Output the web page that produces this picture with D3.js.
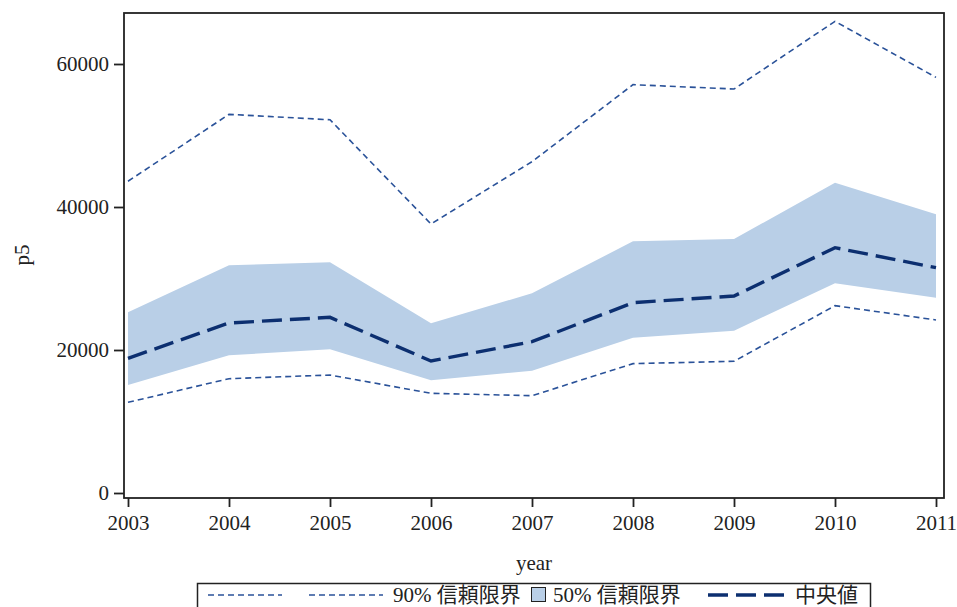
<!DOCTYPE html>
<html>
<head>
<meta charset="utf-8">
<script src="https://cdn.jsdelivr.net/npm/d3@7"></script>
<style>
  html, body { margin: 0; padding: 0; background: #fff; }
  svg { display: block; }
  text { font-family: "Liberation Serif", "Noto Sans CJK JP", serif; fill: #222; }
</style>
</head>
<body>
<svg id="chart" width="957" height="607"></svg>
<script>
// Yearly p5 estimates: median with 50% and 90% confidence limits
const years   = [2003, 2004, 2005, 2006, 2007, 2008, 2009, 2010, 2011];
const median  = [18840, 23780, 24570, 18460, 21160, 26620, 27550, 34310, 31510];
const lo50    = [15100, 19260, 20100, 15760, 17110, 21720, 22700, 29330, 27320];
const hi50    = [25270, 31840, 32260, 23730, 27930, 35200, 35520, 43400, 38980];
const lo90    = [12680, 15990, 16500, 13940, 13610, 18090, 18420, 26200, 24200];
const hi90    = [43600, 52960, 52200, 37620, 46340, 57110, 56500, 65970, 58130];
const yTicks  = [0, 20000, 40000, 60000];
const legendLabels = ["90% 信頼限界", "50% 信頼限界", "中央値"];

const colBand = "#b9cfe7";
const colMed  = "#0c2f70";
const colCI   = "#2a5299";

const svg = d3.select("#chart");

// plot frame
const frame = { left: 124, right: 944, top: 13, bottom: 498 };

const x = d3.scaleLinear().domain([2003, 2011]).range([128, 936]);
const y = d3.scaleLinear().domain([0, 60000]).range([493, 64]);

const rows = years.map((yr, i) => ({
  year: yr, med: median[i], lo50: lo50[i], hi50: hi50[i], lo90: lo90[i], hi90: hi90[i]
}));

// 50% band
svg.append("path")
  .datum(rows)
  .attr("fill", colBand)
  .attr("d", d3.area().x(d => x(d.year)).y0(d => y(d.lo50)).y1(d => y(d.hi50)));

// 90% limits
["hi90", "lo90"].forEach(k => {
  svg.append("path")
    .datum(rows)
    .attr("fill", "none")
    .attr("stroke", colCI)
    .attr("stroke-width", 1.6)
    .attr("stroke-dasharray", "6,4")
    .attr("d", d3.line().x(d => x(d.year)).y(d => y(d[k])));
});

// median
svg.append("path")
  .datum(rows)
  .attr("fill", "none")
  .attr("stroke", colMed)
  .attr("stroke-width", 3.4)
  .attr("stroke-dasharray", "20,8")
  .attr("d", d3.line().x(d => x(d.year)).y(d => y(d.med)));

// frame
svg.append("rect")
  .attr("x", frame.left).attr("y", frame.top)
  .attr("width", frame.right - frame.left).attr("height", frame.bottom - frame.top)
  .attr("fill", "none").attr("stroke", "#222").attr("stroke-width", 1.8);

// y axis
const yAxis = d3.axisLeft(y).tickValues(yTicks).tickSize(10).tickPadding(5).tickFormat(d3.format("d"));
const gy = svg.append("g").attr("transform", `translate(${frame.left},0)`).call(yAxis);
gy.select(".domain").remove();
gy.selectAll(".tick line").attr("stroke", "#222").attr("stroke-width", 1.8);
gy.selectAll(".tick text").attr("font-size", 21).attr("font-family", "Liberation Serif").attr("fill", "#222");

// x axis
const xAxis = d3.axisBottom(x).tickValues(years).tickSize(9).tickPadding(8).tickFormat(d3.format("d"));
const gx = svg.append("g").attr("transform", `translate(0,${frame.bottom})`).call(xAxis);
gx.select(".domain").remove();
gx.selectAll(".tick line").attr("stroke", "#222").attr("stroke-width", 1.8);
gx.selectAll(".tick text").attr("font-size", 21).attr("font-family", "Liberation Serif").attr("fill", "#222");

// axis titles
svg.append("text")
  .attr("x", (frame.left + frame.right) / 2).attr("y", 570)
  .attr("text-anchor", "middle").attr("font-size", 21)
  .text("year");
svg.append("text")
  .attr("transform", "translate(29,255) rotate(-90)")
  .attr("text-anchor", "middle").attr("font-size", 21)
  .text("p5");

// legend
const lg = svg.append("g");
lg.append("rect")
  .attr("x", 197.5).attr("y", 583.5).attr("width", 673).attr("height", 28)
  .attr("fill", "#fff").attr("stroke", "#222").attr("stroke-width", 1.5);

const keyY = 595;
[[208, 282], [309, 383]].forEach(([a, b]) => {
  lg.append("line").attr("x1", a).attr("x2", b).attr("y1", keyY).attr("y2", keyY)
    .attr("stroke", colCI).attr("stroke-width", 1.6).attr("stroke-dasharray", "6,4");
});
lg.append("text").attr("x", 393).attr("y", 602).attr("font-size", 21).text(legendLabels[0]);

lg.append("rect").attr("x", 531.5).attr("y", 587.5).attr("width", 14).attr("height", 14)
  .attr("fill", colBand).attr("stroke", "#222").attr("stroke-width", 1);
lg.append("text").attr("x", 553).attr("y", 602).attr("font-size", 21).text(legendLabels[1]);

lg.append("line").attr("x1", 708).attr("x2", 786).attr("y1", keyY).attr("y2", keyY)
  .attr("stroke", colMed).attr("stroke-width", 3.4).attr("stroke-dasharray", "20,8");
lg.append("text").attr("x", 795).attr("y", 602).attr("font-size", 21).text(legendLabels[2]);
</script>
</body>
</html>
